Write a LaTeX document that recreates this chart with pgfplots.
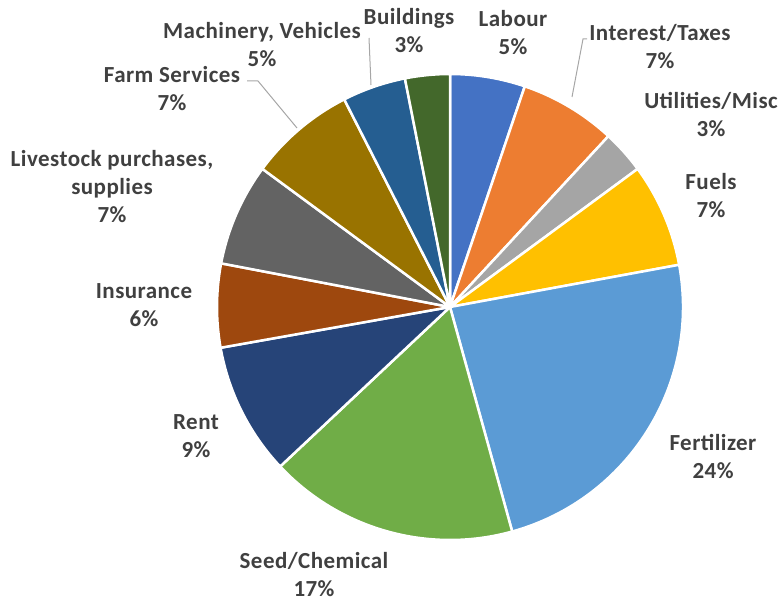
\documentclass[border=0pt]{standalone}
\usepackage{pgfplots}
\usepackage{pgfplotstable}
\pgfplotsset{compat=1.18}
\usepackage{fontspec}
\setmainfont{Carlito}[LetterSpace=2]

% Office palette, one per slice, clockwise from 12 o'clock
\definecolor{c0}{HTML}{4472C4}
\definecolor{c1}{HTML}{ED7D31}
\definecolor{c2}{HTML}{A5A5A5}
\definecolor{c3}{HTML}{FFC000}
\definecolor{c4}{HTML}{5B9BD5}
\definecolor{c5}{HTML}{70AD47}
\definecolor{c6}{HTML}{264478}
\definecolor{c7}{HTML}{9E480E}
\definecolor{c8}{HTML}{636363}
\definecolor{c9}{HTML}{997300}
\definecolor{c10}{HTML}{255E91}
\definecolor{c11}{HTML}{43682B}
\definecolor{lbl}{HTML}{404040}
\definecolor{leader}{HTML}{A6A6A6}

% share of costs, percent
\pgfplotstableread{
value
5.2
6.7
3.0
7.2
23.6
17.3
9.2
5.8
7.1
7.4
4.4
3.1
}\costs

\begin{document}
\begin{tikzpicture}[
    lab/.style={font=\fontsize{23bp}{28bp}\selectfont\bfseries,
        text=lbl, align=center, inner sep=0pt},
]
\begin{axis}[
    width=780bp, height=602bp, scale only axis,
    xmin=0, xmax=780, ymin=0, ymax=602,
    hide axis, clip=false,
]
\pgfplotsextra{
    \path (rel axis cs:0,0) rectangle (rel axis cs:1,1);
    \xdef\cum{0}
    \pgfplotstableforeachcolumnelement{value}\of\costs\as\v{%
        \pgfmathsetmacro\a{90-3.6*\cum}%
        \pgfmathsetmacro\b{90-3.6*(\cum+\v)}%
        \fill[fill=c\pgfplotstablerow, draw=white, line width=2.5bp, line join=round]
            (axis cs:450,295) -- ++(\a:233bp)
            arc[start angle=\a, end angle=\b, radius=233bp] -- cycle;
        \pgfmathsetmacro\c{\cum+\v}%
        \xdef\cum{\c}%
    }
    % leader lines
    \draw[leader, line width=1bp] (axis cs:572,505) -- (axis cs:583,563) -- (axis cs:587,563);
    \draw[leader, line width=1bp] (axis cs:297,474) -- (axis cs:258,521) -- (axis cs:247,521);
    \draw[leader, line width=1bp] (axis cs:371,517) -- (axis cs:369,564);
}
\node[lab] at (axis cs:513,569) {Labour\\5\%};
\node[lab] at (axis cs:660,555) {Interest/Taxes\\7\%};
\node[lab] at (axis cs:711,487) {Utilities/Misc\\3\%};
\node[lab] at (axis cs:711,406) {Fuels\\7\%};
\node[lab] at (axis cs:713,145) {Fertilizer\\24\%};
\node[lab] at (axis cs:314,27) {Seed/Chemical\\17\%};
\node[lab] at (axis cs:196,166) {Rent\\9\%};
\node[lab] at (axis cs:144,297) {Insurance\\6\%};
\node[lab] at (axis cs:112,415) {Livestock purchases,\\supplies\\7\%};
\node[lab] at (axis cs:172,513) {Farm Services\\7\%};
\node[lab] at (axis cs:262,557) {Machinery, Vehicles\\5\%};
\node[lab] at (axis cs:409,571) {Buildings\\3\%};
\end{axis}
\end{tikzpicture}
\end{document}
